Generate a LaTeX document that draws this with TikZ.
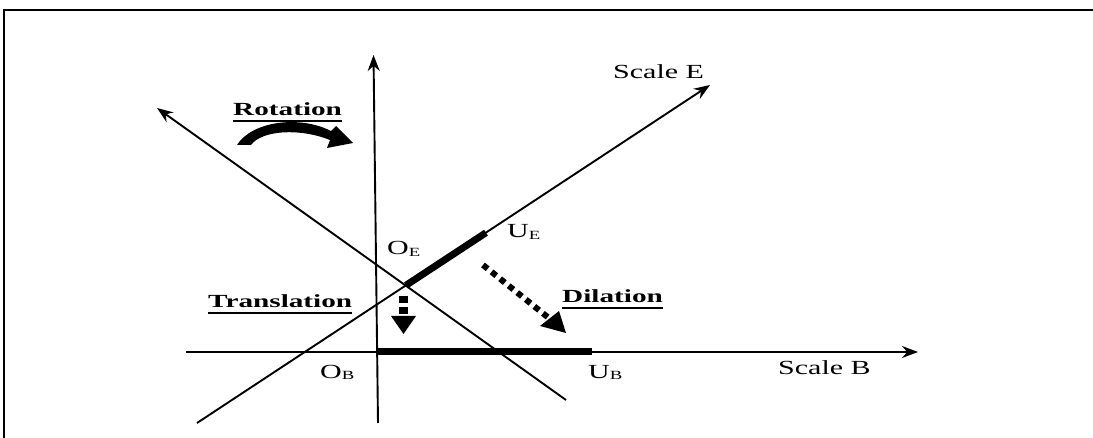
\documentclass[tikz,border=0pt]{standalone}
\usepackage{fontspec}
\setmainfont{Liberation Serif}
\usetikzlibrary{arrows.meta}
\newcommand{\wide}[1]{\scalebox{1.5}[1]{#1}}
\newcommand{\wideb}[1]{\scalebox{1.58}[1]{#1}}
\newcommand{\subs}[1]{\raisebox{-1.5pt}{\fontsize{12.5}{12.5}\selectfont #1}}
\begin{document}
\begin{tikzpicture}[x=1pt,y=-1pt,
  axis/.style={line width=1.9pt,-{Stealth[length=16pt,width=12pt]}},
  thickseg/.style={line width=7pt},
  lbl/.style={inner sep=0pt,anchor=base west,font=\fontsize{20}{22}\selectfont},
  blbl/.style={inner sep=0pt,anchor=base west,font=\fontsize{18.5}{22}\selectfont\bfseries},
  ul/.style={line width=1.6pt},
  dotarrow/.style={line width=6pt,dash pattern=on 6pt off 5pt}]
\useasboundingbox (0,0) rectangle (1093,438);
% frame
\coordinate (fr1) at (1093,10);
\coordinate (fr2) at (4,10);
\coordinate (fr3) at (4,438);
\draw[line width=2pt] (fr1) -- (fr2) -- (fr3);
% axes
\coordinate (vb) at (378,423);
\coordinate (vt) at (373.5,55);
\coordinate (hl) at (186,352);
\coordinate (hr) at (918,352);
\coordinate (eb) at (197,423);
\coordinate (et) at (710,85);
\coordinate (rb) at (566,400);
\coordinate (rt) at (157,108);
\draw[axis] (vb) -- (vt);
\draw[axis] (hl) -- (hr);
\draw[axis] (eb) -- (et);
\draw[axis] (rb) -- (rt);
% thick unit segments
\coordinate (OE) at (406,285.3);
\coordinate (UE) at (486,232.7);
\coordinate (OB) at (378,352);
\coordinate (UB) at (592,352);
\draw[thickseg] (OE) -- (UE);
\draw[thickseg] (OB) -- (UB);
% labels
\node[blbl] (rot) at (233,116) {\wideb{Rotation}};
\node[blbl] (tra) at (208,308) {\wideb{Translation}};
\node[blbl] (dil) at (562,303) {\wideb{Dilation}};
\draw[ul] ([yshift=-5pt]rot.base west) -- ([yshift=-5pt]rot.base east);
\draw[ul] ([yshift=-5pt]tra.base west) -- ([yshift=-5pt]tra.base east);
\draw[ul] ([yshift=-5pt]dil.base west) -- ([yshift=-5pt]dil.base east);
\node[lbl] (oe) at (387,255) {\wide{O\subs{E}}};
\node[lbl] (ue) at (507,238) {\wide{U\subs{E}}};
\node[lbl] (ob) at (320,378) {\wide{O\subs{B}}};
\node[lbl] (ub) at (588,378) {\wide{U\subs{B}}};
\node[lbl] (se) at (613,79) {\wide{Scale E}};
\node[lbl] (sb) at (778,374) {\wide{Scale B}};
% rotation arrow
\fill (237,145) .. controls (252,121) and (300,115) .. (331,131)
  -- (336,126) -- (353,143) -- (327,148) -- (330,140)
  .. controls (300,128) and (262,130) .. (251,145) -- cycle;
% translation arrow
\coordinate (t1) at (403.5,296);
\coordinate (t2) at (403.5,317);
\draw[line width=9pt,dash pattern=on 7pt off 4pt] (t1) -- (t2);
\fill (391,316) -- (416,316) -- (403.5,334) -- cycle;
% dilation arrow
\coordinate (d1) at (483,265);
\coordinate (d2) at (550,319);
\draw[dotarrow] (d1) -- (d2);
\fill (540,326) -- (559,311) -- (566,333) -- cycle;
\end{tikzpicture}
\end{document}
